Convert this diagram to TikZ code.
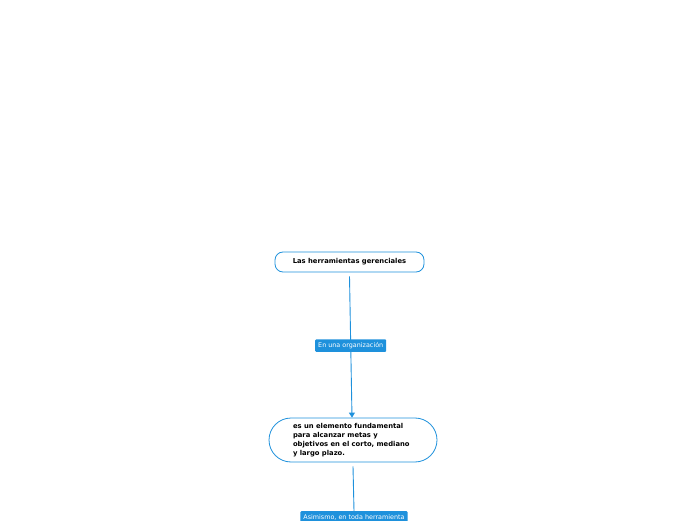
\documentclass[tikz,border=0pt]{standalone}
\usepackage{fontspec}
\setmainfont{DejaVu Sans}
\usetikzlibrary{arrows.meta}
\definecolor{mblue}{RGB}{30,145,220}
\begin{document}
\begin{tikzpicture}[x=1pt,y=1pt,
  topic/.style={draw=mblue,line width=0.8pt,fill=white,font=\fontsize{6.8}{9}\selectfont\bfseries,inner sep=0pt},
  lbl/.style={fill=mblue,text=white,font=\fontsize{6.4}{7}\selectfont,inner xsep=3pt,inner ysep=3pt,rounded corners=1pt},
  conn/.style={draw=mblue,line width=0.9pt}]
\useasboundingbox (0,0) rectangle (696,520);
\node[topic,rounded corners=8pt,minimum width=149pt,minimum height=20pt] (a) at (349.5,258) {Las herramientas gerenciales};
\node[topic,rounded corners=22pt,minimum width=168pt,minimum height=44pt,align=left] (b) at (353,80)
  {\parbox{120pt}{es un elemento fundamental\\para alcanzar metas y\\objetivos en el corto, mediano\\y largo plazo.}};
\node[lbl] (c) at (354,3) {Asimismo, en toda herramienta};
\draw[conn,-{Triangle[length=5pt,width=6pt]}] ([yshift=-4pt]a.south) -- node[lbl,pos=0.49] (l1) {En una organización} ([xshift=-1pt]b.north);
\draw[conn] ([yshift=-4pt]b.south) -- (c.north);
\end{tikzpicture}
\end{document}
